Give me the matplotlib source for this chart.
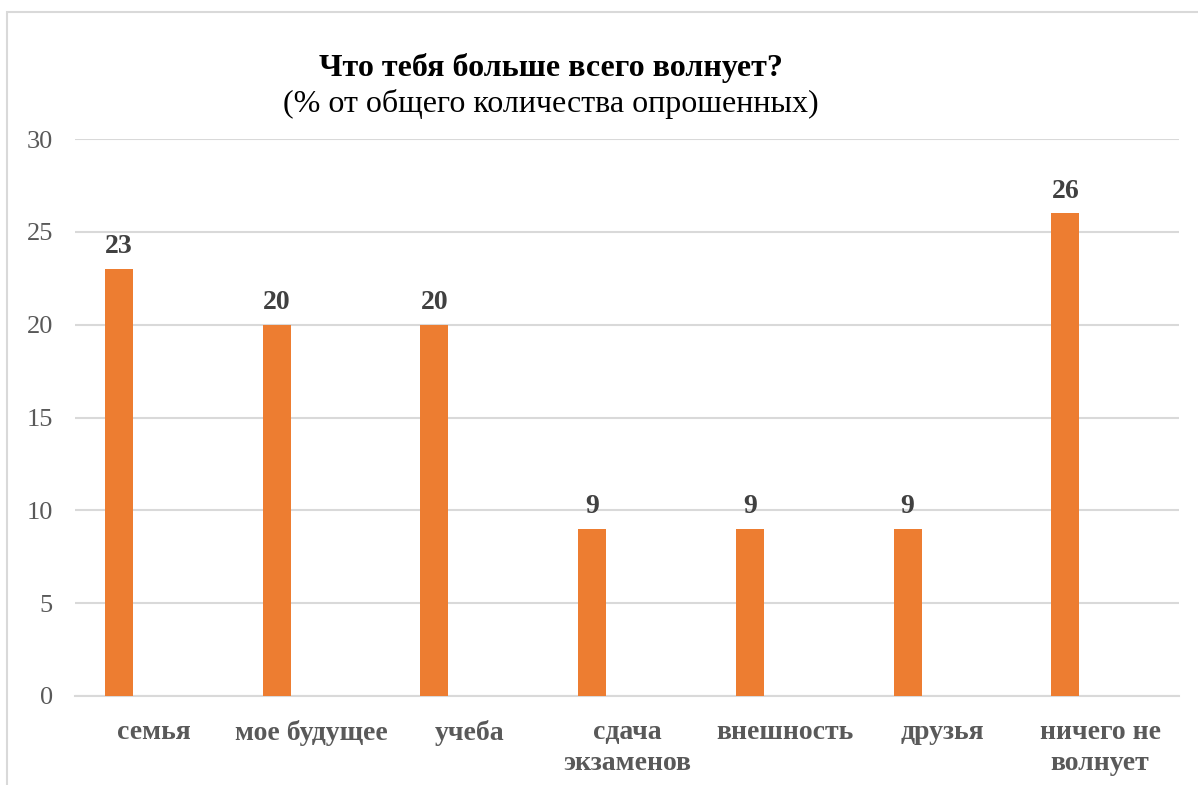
import matplotlib
matplotlib.use("Agg")
import matplotlib.pyplot as plt
from matplotlib.patches import Rectangle

plt.rcParams["font.family"] = ["Liberation Serif", "DejaVu Serif"]

categories = ["семья", "мое будущее", "учеба", "сдача\nэкзаменов",
              "внешность", "друзья", "ничего не\nволнует"]
values = [23, 20, 20, 9, 9, 9, 26]
yticks = [0, 5, 10, 15, 20, 25, 30]

BAR = "#ED7D31"
GRID = "#D9D9D9"
TICK = "#595959"

W, H = 1198, 785
fig = plt.figure(figsize=(W / 100, H / 100), dpi=100)
fig.patches.append(Rectangle((7 / W, -0.1), 1.2, 1.1 - 12 / H, transform=fig.transFigure,
                             fill=False, edgecolor=GRID, linewidth=1.5))

ax = fig.add_axes([75 / W, 1 - 696 / H, (1179 - 75) / W, (696 - 139) / H])
x = list(range(len(categories)))
bx = [i - 0.221 for i in x]
ax.bar(bx, values, width=0.178, color=BAR, zorder=3)
for xi, v in zip(bx, values):
    ax.annotate(str(v), (xi, v), xytext=(0, 16), textcoords="offset points",
                ha="center", va="center", fontsize=20, fontweight="bold", color="#404040")

ax.set_xlim(-0.5, len(categories) - 0.5)
ax.set_ylim(0, 30)
ax.set_yticks(yticks)
ax.set_xticks(x)
ax.set_xticklabels(categories, fontsize=20, fontweight="bold", color=TICK, linespacing=1.35)
ax.tick_params(axis="y", length=0, pad=16, labelsize=19, labelcolor=TICK)
ax.tick_params(axis="x", length=0, pad=17)
ax.grid(axis="y", color=GRID, linewidth=1.5, zorder=0)
for s in ["top", "right", "left"]:
    ax.spines[s].set_visible(False)
ax.spines["bottom"].set_color(GRID)
ax.spines["bottom"].set_linewidth(1.5)

fig.text(551 / W, 1 - 68 / H, "Что тебя больше всего волнует?", ha="center", va="center",
         fontsize=23, fontweight="bold", color="black")
fig.text(551 / W, 1 - 104 / H, "(% от общего количества опрошенных)", ha="center", va="center",
         fontsize=23, color="black")

fig.savefig("out.png", dpi=100)
